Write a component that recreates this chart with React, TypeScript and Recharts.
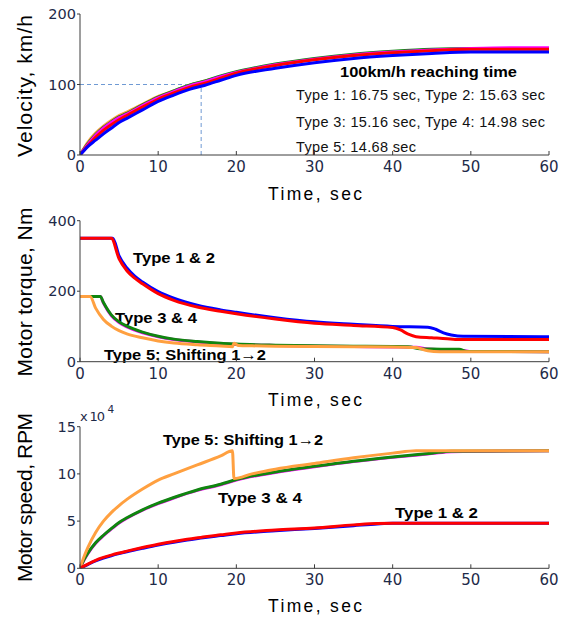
import React from 'react';
import { LineChart, Line, XAxis, YAxis, ReferenceLine, Customized } from 'recharts';

// ---------- shared ticks ----------
const timeTicks = [0, 10, 20, 30, 40, 50, 60];
const velocityTicks = [0, 100, 200];
const torqueTicks = [0, 200, 400];
const speedTicks = [0, 5, 10, 15];

// ---------- velocity (km/h) ----------
const velTime = [0, 1, 2, 3, 4, 5, 6, 8, 10, 12, 14, 16, 18, 20, 25, 30, 35, 40, 45, 50, 55, 60];
const velType1 = [0, 12, 21, 30, 38, 46, 52, 64, 76, 85, 93, 99, 106, 113, 123, 131, 137, 141, 144, 146, 146, 146];
const velType2 = [0, 13, 25, 35, 43, 50, 56, 68, 79, 88, 96, 102, 109, 116, 127, 135, 141, 145, 148, 150, 150, 150];
const velType3 = [0, 15, 28, 38, 46, 53, 58, 70, 81, 90, 98, 104, 111, 117, 128, 136, 142, 146, 149, 151, 152, 152];
const velType4 = [0, 16, 29, 39, 47, 54, 59, 71, 82, 91, 99, 105, 112, 118, 129, 137, 143, 147, 150, 151, 151, 151];
const velType5 = [0, 18, 31, 41, 49, 56, 61, 72, 83, 91, 99, 105, 111, 117, 128, 136, 142, 146, 149, 150, 150, 150];
const reachSpeed = 100;
const reachTime = 15.5;

// ---------- motor torque (Nm) ----------
const tqTime1 = [0, 4.2, 5, 6, 7, 8, 10, 12, 15, 18, 20, 25, 30, 35, 40, 44.5, 45.5, 46.5, 47.5, 49, 60];
const tqType1 = [350, 350, 300, 266, 243, 226, 199, 180, 160, 147, 140, 125, 113, 106, 100, 98, 92, 82, 76, 72, 71];
const tqTime2 = [0, 4, 5, 6, 7, 8, 10, 12, 15, 18, 20, 25, 30, 35, 40, 41, 42, 43, 45, 47, 48, 60];
const tqType2 = [350, 350, 292, 258, 237, 221, 193, 174, 155, 143, 136, 121, 109, 103, 97, 90, 78, 71, 68, 65, 63, 63];
const tqTime3 = [0, 2.6, 3, 4, 5, 6, 8, 10, 12, 15, 18, 20, 25, 30, 35, 40, 43, 44.5, 46, 49, 50, 60];
const tqType3 = [185, 185, 166, 131, 111, 99, 82, 71, 63, 56, 51, 49, 46, 44, 43, 42, 41, 36, 34, 32, 29, 28.5];
const tqTime4 = [0, 2.6, 3, 4, 5, 6, 8, 10, 12, 15, 18, 20, 25, 30, 35, 40, 42, 43.5, 45, 48.5, 49.5, 60];
const tqType4 = [185, 185, 168, 133, 113, 101, 84, 72, 64, 57, 52, 50, 47, 45, 44, 43, 42.5, 37, 36, 35, 29, 28.5];
const tqTime5 = [0, 1.3, 2, 3, 4, 5, 6, 8, 10, 12, 15, 18, 19.5, 19.7, 20.3, 22, 25, 30, 35, 40, 43, 44.5, 46, 60];
const tqType5 = [185, 185, 152, 120, 101, 88, 79, 68, 59, 53, 48, 44.5, 42.5, 52, 46, 45, 44, 43, 42.5, 42, 40, 31, 28.5, 28.5];

// ---------- motor speed (x10^4 RPM) ----------
const spTime12 = [0, 1, 2, 3, 4, 5, 6, 8, 10, 12, 14, 16, 18, 20, 25, 30, 35, 38, 40, 60];
const spType1 = [0, 0.4, 0.78, 1.08, 1.33, 1.55, 1.75, 2.12, 2.47, 2.77, 3.02, 3.27, 3.47, 3.67, 3.98, 4.22, 4.52, 4.7, 4.77, 4.77];
const spType2 = [0, 0.45, 0.85, 1.15, 1.4, 1.62, 1.82, 2.2, 2.55, 2.85, 3.1, 3.35, 3.55, 3.75, 4.05, 4.28, 4.6, 4.75, 4.77, 4.77];
const spTime34 = [0, 0.5, 1, 2, 3, 4, 5, 6, 8, 10, 12, 15, 18, 20, 25, 30, 35, 40, 45, 47.5, 60];
const spType3 = [0, 0.85, 1.55, 2.65, 3.45, 4.15, 4.8, 5.3, 6.15, 6.85, 7.45, 8.25, 8.85, 9.35, 10.15, 10.75, 11.3, 11.75, 12.15, 12.35, 12.45];
const spType4 = [0, 0.9, 1.6, 2.7, 3.5, 4.2, 4.85, 5.35, 6.2, 6.9, 7.5, 8.3, 8.9, 9.4, 10.2, 10.8, 11.35, 11.8, 12.2, 12.4, 12.45];
const spTime5 = [0, 0.5, 1, 2, 3, 4, 5, 6, 8, 10, 12, 15, 18, 19.5, 19.7, 22, 25, 30, 35, 40, 43, 60];
const spType5 = [0, 1.2, 2.2, 3.8, 5.0, 5.9, 6.65, 7.3, 8.4, 9.35, 10.0, 10.95, 11.9, 12.45, 9.5, 10.0, 10.5, 11.1, 11.7, 12.2, 12.46, 12.46];

// ---------- styling ----------
const C1 = '#0000ff';
const C2 = '#ff0000';
const C3 = '#ff00ff';
const C4 = '#0f860f';
const C5 = '#ffa040';
const AXIS = '#3c3c3c';
const TICK_COLOR = '#1e2a48';
const FONT = "'Liberation Sans', Arial, sans-serif";
const TICK_FONT = "'DejaVu Sans', sans-serif";
const LW = 3;

const pts = (ts: number[], vs: number[]) => ts.map((t, i) => ({ t, v: vs[i] }));

const XTick = (props: any) => {
  const { x, y, payload } = props;
  return (
    <g>
      <line x1={x} x2={x} y1={y} y2={y - 4} stroke={AXIS} strokeWidth={1} />
      <text x={x} y={y + 17} textAnchor="middle" fontFamily={TICK_FONT} fontSize={15} fill={TICK_COLOR}>
        {payload.value}
      </text>
    </g>
  );
};

const YTick = (props: any) => {
  const { x, y, payload } = props;
  return (
    <g>
      <line x1={x - 3} x2={x} y1={y} y2={y} stroke={AXIS} strokeWidth={1} />
      <text x={x - 4} y={y + 5} textAnchor="end" fontFamily={TICK_FONT} fontSize={14.5} fill={TICK_COLOR}>
        {payload.value}
      </text>
    </g>
  );
};

const XTitle = ({ cx, y }: { cx: number; y: number }) => (
  <text x={cx} y={y} textAnchor="middle" fontFamily={FONT} fontSize={17.5} fill="#000" textLength={94}>
    Time, sec
  </text>
);

const YTitle = ({ cy, label, len }: { cy: number; label: string; len: number }) => (
  <text
    x={0}
    y={0}
    transform={`translate(32, ${cy}) rotate(-90)`}
    textAnchor="middle"
    fontFamily={FONT}
    fontSize={21}
    fill="#000"
    textLength={len}
  >
    {label}
  </text>
);

const BoldLabel = ({ x, y, w, text }: { x: number; y: number; w: number; text: string }) => (
  <text x={x} y={y} fontFamily={FONT} fontSize={15.5} fontWeight={700} fill="#000" textLength={w} lengthAdjust="spacingAndGlyphs">
    {text}
  </text>
);

const xAxisProps = {
  dataKey: 't',
  type: 'number' as const,
  domain: [0, 60],
  ticks: timeTicks,
  tickSize: 0,
  tickMargin: 0,
  tickLine: false,
  axisLine: { stroke: AXIS, strokeWidth: 1 },
  tick: XTick,
  interval: 0 as const,
  allowDataOverflow: true,
};

const yAxisCommon = {
  type: 'number' as const,
  width: 60,
  tickSize: 0,
  tickMargin: 0,
  tickLine: false,
  axisLine: { stroke: AXIS, strokeWidth: 1 },
  tick: YTick,
  interval: 0 as const,
  allowDataOverflow: true,
};

export default function App() {
  return (
    <div style={{ position: 'absolute', left: 0, top: 0, width: 571, height: 621, background: '#fff' }}>
      {/* Velocity */}
      <div style={{ position: 'absolute', left: 0, top: 0 }}>
        <LineChart width={571} height={210} margin={{ top: 14, right: 22, left: 20, bottom: 15 }}>
          <XAxis {...xAxisProps} height={40} />
          <YAxis {...yAxisCommon} domain={[0, 200]} ticks={velocityTicks} />
          <ReferenceLine
            segment={[{ x: 0, y: reachSpeed }, { x: reachTime, y: reachSpeed }]}
            stroke="#6f9ad4"
            strokeDasharray="4 3"
            strokeWidth={1}
          />
          <ReferenceLine
            segment={[{ x: reachTime, y: 0 }, { x: reachTime, y: reachSpeed }]}
            stroke="#6f9ad4"
            strokeDasharray="4 3"
            strokeWidth={1}
          />
          <Line data={pts(velTime, velType5)} dataKey="v" type="monotone" stroke={C5} strokeWidth={LW} dot={false} isAnimationActive={false} />
          <Line data={pts(velTime, velType4)} dataKey="v" type="monotone" stroke={C4} strokeWidth={LW} dot={false} isAnimationActive={false} />
          <Line data={pts(velTime, velType3)} dataKey="v" type="monotone" stroke={C3} strokeWidth={LW} dot={false} isAnimationActive={false} />
          <Line data={pts(velTime, velType2)} dataKey="v" type="monotone" stroke={C2} strokeWidth={LW} dot={false} isAnimationActive={false} />
          <Line data={pts(velTime, velType1)} dataKey="v" type="monotone" stroke={C1} strokeWidth={LW} dot={false} isAnimationActive={false} />
          <Customized
            component={() => (
              <g>
                <XTitle cx={315} y={200} />
                <YTitle cy={86} label="Velocity, km/h" len={142} />
                <text x={428.5} y={77} textAnchor="middle" fontFamily={FONT} fontSize={15} fontWeight={700} fill="#000" textLength={177} lengthAdjust="spacingAndGlyphs">
                  100km/h reaching time
                </text>
                <text x={296} y={100} fontFamily={FONT} fontSize={14.5} fill="#111" textLength={249}>
                  Type 1: 16.75 sec, Type 2: 15.63 sec
                </text>
                <text x={296} y={127} fontFamily={FONT} fontSize={14.5} fill="#111" textLength={249}>
                  Type 3: 15.16 sec, Type 4: 14.98 sec
                </text>
                <text x={296} y={152} fontFamily={FONT} fontSize={14.5} fill="#111" textLength={120}>
                  Type 5: 14.68 sec
                </text>
              </g>
            )}
          />
        </LineChart>
      </div>

      {/* Motor torque */}
      <div style={{ position: 'absolute', left: 0, top: 200 }}>
        <LineChart width={571} height={215} margin={{ top: 20.7, right: 22, left: 20, bottom: 13.3 }}>
          <XAxis {...xAxisProps} height={40} />
          <YAxis {...yAxisCommon} domain={[0, 400]} ticks={torqueTicks} />
          <Line data={pts(tqTime3, tqType3)} dataKey="v" type="monotone" stroke={C3} strokeWidth={LW} dot={false} isAnimationActive={false} />
          <Line data={pts(tqTime4, tqType4)} dataKey="v" type="monotone" stroke={C4} strokeWidth={LW} dot={false} isAnimationActive={false} />
          <Line data={pts(tqTime5, tqType5)} dataKey="v" type="monotone" stroke={C5} strokeWidth={LW} dot={false} isAnimationActive={false} />
          <Line data={pts(tqTime1, tqType1)} dataKey="v" type="monotone" stroke={C1} strokeWidth={LW} dot={false} isAnimationActive={false} />
          <Line data={pts(tqTime2, tqType2)} dataKey="v" type="monotone" stroke={C2} strokeWidth={LW} dot={false} isAnimationActive={false} />
          <Customized
            component={() => (
              <g>
                <XTitle cx={315} y={206} />
                <YTitle cy={92} label="Motor torque, Nm" len={169} />
                <BoldLabel x={133} y={62.5} w={82} text="Type 1 & 2" />
                <BoldLabel x={115} y={123} w={82} text="Type 3 & 4" />
                <BoldLabel x={104} y={160} w={162} text="Type 5: Shifting 1→2" />
              </g>
            )}
          />
        </LineChart>
      </div>

      {/* Motor speed */}
      <div style={{ position: 'absolute', left: 0, top: 400 }}>
        <LineChart width={571} height={221} margin={{ top: 26.7, right: 22, left: 20, bottom: 12.7 }}>
          <XAxis {...xAxisProps} height={40} />
          <YAxis {...yAxisCommon} domain={[0, 15]} ticks={speedTicks} />
          <Line data={pts(spTime34, spType3)} dataKey="v" type="monotone" stroke={C3} strokeWidth={LW} dot={false} isAnimationActive={false} />
          <Line data={pts(spTime34, spType4)} dataKey="v" type="monotone" stroke={C4} strokeWidth={LW} dot={false} isAnimationActive={false} />
          <Line data={pts(spTime5, spType5)} dataKey="v" type="monotone" stroke={C5} strokeWidth={LW} dot={false} isAnimationActive={false} />
          <Line data={pts(spTime12, spType1)} dataKey="v" type="monotone" stroke={C1} strokeWidth={LW} dot={false} isAnimationActive={false} />
          <Line data={pts(spTime12, spType2)} dataKey="v" type="monotone" stroke={C2} strokeWidth={LW} dot={false} isAnimationActive={false} />
          <Customized
            component={() => (
              <g>
                <XTitle cx={315} y={212} />
                <YTitle cy={97.5} label="Motor speed, RPM" len={169} />
                <text x={80} y={20.5} fontFamily={TICK_FONT} fontSize={13} fill={TICK_COLOR} textLength={25}>
                  x 10
                </text>
                <text x={107.5} y={13} fontFamily={TICK_FONT} fontSize={10.5} fill={TICK_COLOR}>
                  4
                </text>
                <BoldLabel x={163} y={45} w={160} text="Type 5: Shifting 1→2" />
                <BoldLabel x={218} y={103} w={84} text="Type 3 & 4" />
                <BoldLabel x={395} y={118} w={83} text="Type 1 & 2" />
              </g>
            )}
          />
        </LineChart>
      </div>
    </div>
  );
}
